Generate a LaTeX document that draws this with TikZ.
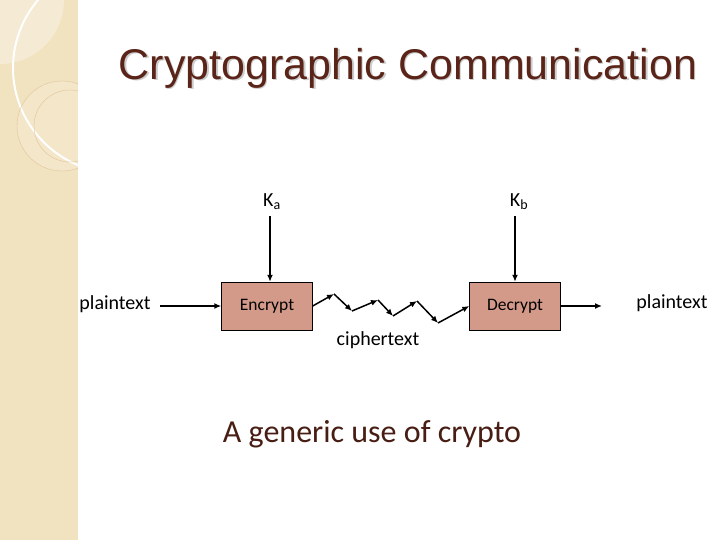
\documentclass[tikz,border=0pt]{standalone}
\usepackage{fontspec}
\setmainfont{Carlito}
\newfontfamily\arialf{Liberation Sans}
\usetikzlibrary{arrows.meta,patterns}
\definecolor{panel}{HTML}{F1E2C0}
\definecolor{boxfill}{HTML}{D49A89}
\definecolor{titlec}{HTML}{5A2418}
\begin{document}
\begin{tikzpicture}[x=1pt,y=-1pt,
  box/.style={draw=black,fill=boxfill,minimum width=91pt,minimum height=48pt,font=\fontsize{17.5}{20}\selectfont},
  lbl/.style={font=\fontsize{20}{22}\selectfont},
  arr/.style={-{Latex[length=7pt,width=6pt]},line width=1.5pt},
  zig/.style={-{Latex[length=7pt,width=6pt]},line width=1.5pt}]
\useasboundingbox (0,0) rectangle (720,540);
\fill[white] (0,0) rectangle (720,540);
\fill[panel] (0,0) rectangle (78,540);
\begin{scope}
\clip (0,0) rectangle (78,540);
\fill[white,opacity=0.3] (0,0) circle (64);
\draw[white,line width=2pt] (118,68) circle (105);
\draw[panel!70!brown,line width=0.4pt,fill=white,fill opacity=0.15] (62,126) circle (45);
\draw[panel!70!brown,line width=0.4pt] (70,126) circle (36);
\end{scope}
\node[font=\arialf\fontsize{43}{48}\selectfont,text=black!20] (tsh) at (409.5,69.5) {Cryptographic Communication};
\node[font=\arialf\fontsize{43}{48}\selectfont,text=titlec] (title) at (408,68) {Cryptographic Communication};
\node[box] (enc) at (267,306) {Encrypt};
\node[box] (dec) at (515,306) {Decrypt};
\node[lbl] (ka) at (272,202) {K\textsubscript{a}};
\node[lbl] (kb) at (519,202) {K\textsubscript{b}};
\node[lbl] (pl) at (115,304) {plaintext};
\node[lbl] (pr) at (672,303) {plaintext};
\node[lbl] (ct) at (378,340) {ciphertext};
\node[font=\fontsize{32}{36}\selectfont,text=titlec!80!black] (cap) at (372,434) {A generic use of crypto};
\coordinate (kas) at (270,216);
\coordinate (kbs) at (515,216);
\draw[arr] (kas) -- (kas |- enc.north);
\draw[arr] (kbs) -- (kbs |- dec.north);
\coordinate (ple) at (160,306);
\draw[arr] (ple) -- (ple -| enc.west);
\coordinate (pre) at (602,306);
\draw[arr] (dec.east) -- (pre);
\coordinate (z1) at (334,294);
\coordinate (z2) at (352,311);
\coordinate (z3) at (378,300);
\coordinate (z4) at (393,316);
\coordinate (z5) at (417,301);
\coordinate (z6) at (438,323);
\draw[zig] (enc.east) -- (z1);
\draw[zig] (z1) -- (z2);
\draw[zig] (z2) -- (z3);
\draw[zig] (z3) -- (z4);
\draw[zig] (z4) -- (z5);
\draw[zig] (z5) -- (z6);
\draw[zig] (z6) -- (dec.west);
\end{tikzpicture}
\end{document}
